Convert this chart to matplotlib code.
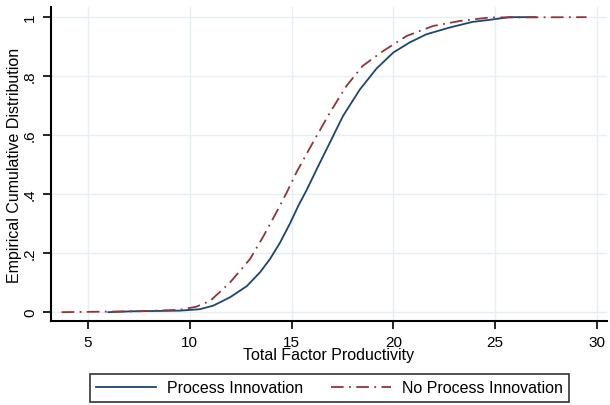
import matplotlib
matplotlib.use("Agg")
import matplotlib.pyplot as plt

plt.rcParams['font.family'] = ['Liberation Sans', 'DejaVu Sans']

# empirical CDF of TFP, firms with process innovation
tfp_proc = [6.0, 7.2, 9.5, 10.5, 11.15, 11.97, 12.8, 13.45, 13.94, 14.43, 14.92,
            15.33, 15.75, 16.24, 16.8, 17.53, 18.36, 19.18, 20.0, 20.8, 21.63,
            22.78, 23.9, 24.75, 25.7, 27.0]
cdf_proc = [0.000, 0.003, 0.005, 0.010, 0.022, 0.050, 0.088, 0.135, 0.180, 0.235,
            0.300, 0.360, 0.415, 0.485, 0.563, 0.665, 0.755, 0.826, 0.880, 0.914,
            0.942, 0.965, 0.984, 0.991, 1.000, 1.000]

# empirical CDF of TFP, firms without process innovation
tfp_noproc = [3.7, 7.5, 9.5, 10.3, 11.0, 11.97, 12.96, 13.6, 14.27, 14.76, 15.25,
              16.05, 16.9, 17.7, 18.5, 19.5, 20.65, 21.95, 23.27, 24.75, 29.5]
cdf_noproc = [0.000, 0.003, 0.008, 0.018, 0.038, 0.100, 0.180, 0.255, 0.340, 0.405,
              0.475, 0.575, 0.678, 0.767, 0.835, 0.885, 0.936, 0.970, 0.987, 0.999,
              1.000]

xticks = [5, 10, 15, 20, 25, 30]
yticks = [0, 0.2, 0.4, 0.6, 0.8, 1]
ylabels = ['0', '.2', '.4', '.6', '.8', '1']

navy = '#1a476f'
maroon = '#90353b'

fig = plt.figure(figsize=(6.1, 4.06), dpi=100)
ax = fig.add_axes([0.0836, 0.2069, 0.9114, 0.7731])

ax.plot(tfp_proc, cdf_proc, color=navy, lw=1.3, label='Process Innovation')
ln, = ax.plot(tfp_noproc, cdf_noproc, color=maroon, lw=1.3,
              label='No Process Innovation')
ln.set_dashes([7, 3, 1, 3])

ax.set_xlim(3.18, 30.5)
ax.set_ylim(-0.03, 1.034)
ax.set_xticks(xticks)
ax.set_yticks(yticks)
ax.set_yticklabels(ylabels, rotation=90, va='center')
ax.grid(True, color='#e6eff1', lw=1)
ax.set_axisbelow(True)

for side in ['top', 'right']:
    ax.spines[side].set_visible(False)
for side in ['left', 'bottom']:
    ax.spines[side].set_linewidth(1.5)
ax.tick_params(axis='both', direction='out', length=6, width=1.2,
               labelsize=11, pad=4)

ax.set_xlabel('Total Factor Productivity', fontsize=11.5, labelpad=-1)
ax.set_ylabel('Empirical Cumulative Distribution', fontsize=11.5, labelpad=1)

leg = fig.legend(loc='center', bbox_to_anchor=(0.54, 0.042), ncol=2,
                 fontsize=11.5, handlelength=3.75, handletextpad=0.65,
                 columnspacing=1.8, frameon=True, fancybox=False,
                 borderpad=0.4)
leg.get_frame().set_edgecolor('black')
leg.get_frame().set_linewidth(1.2)

fig.savefig('out.png', dpi=100)
